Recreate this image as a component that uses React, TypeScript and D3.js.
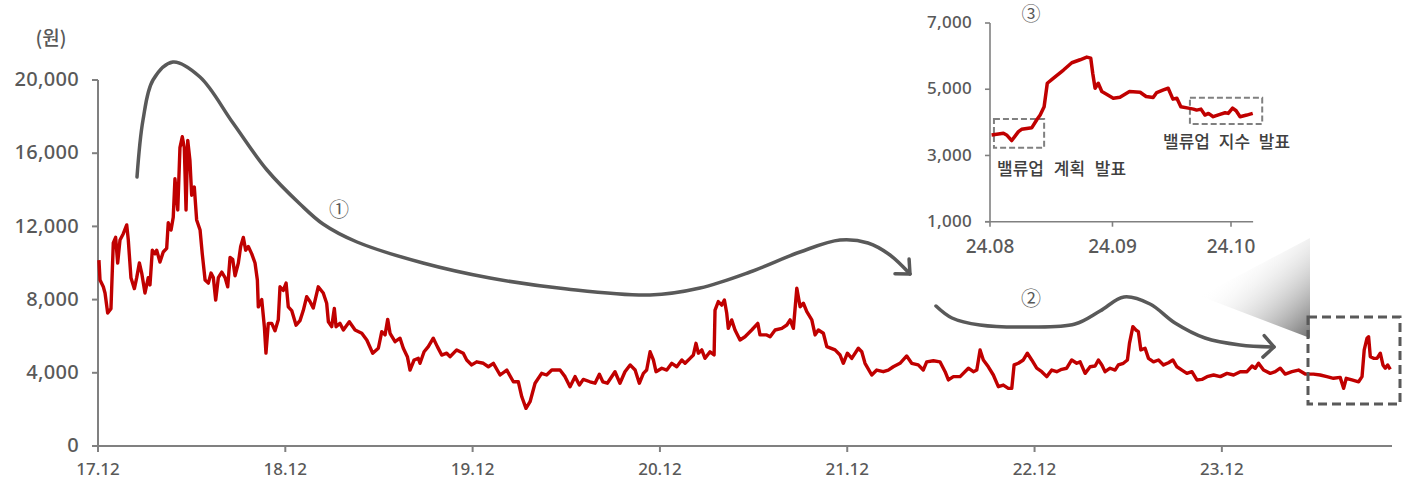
import React from 'react';
import * as d3 from 'd3';

// Main chart: months since 2017-12, closing price (KRW)
const xTickMonths = [0, 12, 24, 36, 48, 60, 72];
const xTickLabels = ['17.12', '18.12', '19.12', '20.12', '21.12', '22.12', '23.12'];
const yTicks = [0, 4000, 8000, 12000, 16000, 20000];
const monthDomainEnd = 82.9;

const priceSeries: [number, number][] = [
  [0.06, 10160], [0.13, 9070], [0.34, 8700], [0.45, 8360], [0.62, 7270], [0.83, 7500], [0.98, 11100], [1.13, 11400],
  [1.26, 10000], [1.41, 11260], [1.62, 11600], [1.84, 12080], [1.94, 11260], [2.11, 9200], [2.33, 8600], [2.48, 9200],
  [2.65, 10000], [2.8, 9450], [3.01, 8360], [3.22, 9200], [3.33, 8800], [3.48, 10700], [3.65, 10500], [3.76, 10700],
  [3.97, 10050], [4.18, 10600], [4.4, 10800], [4.5, 12200], [4.68, 11800], [4.82, 12500], [4.93, 14600], [5.11, 12900],
  [5.25, 16300], [5.4, 16900], [5.53, 16300], [5.64, 12900], [5.75, 16700], [5.89, 15600], [6.0, 13700], [6.17, 14150],
  [6.32, 12350], [6.54, 11800], [6.68, 10500], [6.86, 9070], [7.07, 8900], [7.24, 9450], [7.39, 9200], [7.54, 7980],
  [7.71, 9200], [7.93, 9500], [8.14, 9200], [8.31, 8700], [8.46, 10300], [8.63, 10200], [8.78, 9300], [8.99, 10000],
  [9.14, 10900], [9.31, 11400], [9.46, 10700], [9.63, 10900], [9.85, 10500], [10.06, 10000], [10.21, 9070], [10.27, 7600],
  [10.49, 8000], [10.66, 6500], [10.76, 5080], [10.91, 6700], [11.13, 6700], [11.34, 6300], [11.55, 6900], [11.66, 8700],
  [11.87, 8500], [12.05, 8900], [12.19, 7600], [12.41, 7400], [12.69, 6600], [12.94, 6850], [13.15, 7400], [13.37, 8160],
  [13.58, 7900], [13.79, 7540], [14.11, 8700], [14.43, 8360], [14.65, 7800], [14.76, 6790], [14.97, 6520], [15.14, 7520],
  [15.25, 6520], [15.5, 6700], [15.72, 6340], [16.1, 6790], [16.47, 6340], [16.9, 6160], [17.22, 5790], [17.6, 5070],
  [17.96, 5340], [18.18, 6250], [18.39, 6070], [18.56, 6920], [18.71, 6160], [19.03, 5700], [19.35, 5890], [19.56, 5340],
  [19.82, 4880], [19.99, 4150], [20.25, 4700], [20.52, 4790], [20.63, 4520], [20.89, 5150], [21.16, 5430], [21.48, 5890],
  [21.74, 5430], [22.02, 4970], [22.34, 5070], [22.55, 4880], [22.98, 5250], [23.4, 5070], [23.62, 4700], [23.94, 4430],
  [24.26, 4600], [24.69, 4520], [25.01, 4330], [25.33, 4520], [25.76, 3880], [26.19, 4150], [26.61, 3510], [26.93, 3510],
  [27.15, 2690], [27.42, 2060], [27.68, 2420], [28.0, 3430], [28.42, 3970], [28.74, 3880], [29.07, 4150], [29.6, 4150],
  [29.92, 3790], [30.24, 3240], [30.56, 3790], [30.84, 3330], [31.09, 3640], [31.52, 3510], [31.84, 3430], [32.12, 3920],
  [32.34, 3510], [32.63, 3430], [33.12, 4060], [33.44, 3430], [33.76, 4060], [34.09, 4430], [34.41, 4150], [34.68, 3430],
  [34.94, 3970], [35.15, 4150], [35.37, 5150], [35.58, 4700], [35.75, 4060], [36.12, 4250], [36.44, 4150], [36.76, 4520],
  [37.08, 4330], [37.4, 4700], [37.61, 4520], [37.93, 4790], [38.14, 4970], [38.31, 5610], [38.46, 5070], [38.68, 5250],
  [38.89, 4790], [39.21, 5150], [39.47, 4970], [39.53, 7430], [39.74, 7890], [39.96, 7700], [40.13, 7980], [40.28, 7250],
  [40.38, 6430], [40.6, 6890], [40.81, 6340], [41.13, 5790], [41.45, 5970], [41.88, 6340], [42.27, 6700], [42.41, 6070],
  [42.84, 6070], [43.06, 5970], [43.38, 6340], [43.81, 6430], [44.13, 6610], [44.34, 6890], [44.55, 6430], [44.77, 8620],
  [44.98, 7610], [45.19, 7800], [45.41, 7340], [45.73, 6890], [45.94, 6070], [46.15, 6340], [46.47, 6160], [46.69, 5430],
  [47.22, 5250], [47.54, 4970], [47.75, 4520], [48.01, 5070], [48.29, 4790], [48.71, 5340], [48.93, 5150], [49.14, 4520],
  [49.57, 3880], [49.89, 4150], [50.31, 4060], [50.63, 4150], [50.95, 4330], [51.38, 4520], [51.81, 4920], [52.13, 4520],
  [52.55, 4430], [52.87, 4150], [53.09, 4600], [53.52, 4660], [53.94, 4600], [54.27, 4060], [54.48, 3610], [54.8, 3790],
  [55.23, 3790], [55.76, 4250], [56.08, 4060], [56.3, 4150], [56.51, 5250], [56.72, 4700], [57.04, 4330], [57.36, 3880],
  [57.68, 3240], [58.0, 3330], [58.32, 3150], [58.54, 3150], [58.69, 4430], [58.96, 4520], [59.28, 4700], [59.54, 5070],
  [59.82, 4700], [60.14, 4250], [60.46, 4060], [60.78, 3790], [61.1, 4150], [61.42, 4060], [61.74, 4190], [62.06, 4250],
  [62.38, 4700], [62.7, 4520], [62.92, 4600], [63.24, 3970], [63.56, 4330], [63.88, 4370], [64.09, 4700], [64.31, 4430],
  [64.52, 4060], [64.84, 4250], [65.16, 4150], [65.37, 4430], [65.69, 4520], [65.95, 4700], [66.08, 5610], [66.3, 6520],
  [66.49, 6340], [66.65, 6250], [66.81, 5250], [67.08, 5340], [67.3, 4790], [67.62, 4600], [67.94, 4700], [68.26, 4430],
  [68.58, 4550], [68.86, 4700], [69.12, 4330], [69.44, 4150], [69.76, 3970], [70.08, 4060], [70.4, 3610], [70.72, 3640],
  [71.05, 3790], [71.47, 3880], [71.9, 3790], [72.33, 3970], [72.75, 3880], [73.18, 4060], [73.61, 4060], [73.93, 4370],
  [74.14, 4250], [74.35, 4520], [74.67, 4150], [75.1, 3970], [75.42, 4060], [75.74, 4250], [76.06, 3930], [76.49, 4060],
  [76.91, 4150], [77.34, 3930], [77.87, 3930], [78.3, 3880], [78.73, 3790], [79.15, 3700], [79.58, 3750], [79.8, 3150],
  [79.97, 3700], [80.33, 3610], [80.76, 3510], [80.98, 3790], [81.12, 5250], [81.3, 5890], [81.4, 5970], [81.51, 4880],
  [81.72, 4790], [81.94, 4790], [82.15, 5070], [82.32, 4430], [82.47, 4250], [82.62, 4430], [82.79, 4190],
];

// Inset: days since 2024-08-01, closing price (KRW)
const insetTickDays = [0, 31, 61];
const insetTickLabels = ['24.08', '24.09', '24.10'];
const insetYTicks = [1000, 3000, 5000, 7000];
const insetDomainEnd = 66.6;

const insetSeries: [number, number][] = [
  [0.4, 3620], [3.4, 3670], [4.2, 3620], [5.5, 3450], [7.2, 3720], [8.0, 3790], [10.6, 3840], [11.8, 4070],
  [12.7, 4220], [13.7, 4470], [14.5, 5180], [16.0, 5330], [18.6, 5580], [20.7, 5800], [22.8, 5890], [24.5, 5970],
  [25.5, 5940], [26.0, 5480], [26.6, 5030], [27.4, 5180], [28.3, 4930], [29.5, 4850], [31.2, 4730], [32.9, 4760],
  [35.3, 4930], [38.0, 4910], [39.5, 4780], [41.3, 4750], [42.2, 4900], [43.9, 4980], [45.1, 5030], [46.3, 4700],
  [47.3, 4730], [48.3, 4470], [50.2, 4430], [51.5, 4400], [52.3, 4370], [53.4, 4400], [54.4, 4220], [55.3, 4270],
  [56.5, 4170], [58.2, 4240], [59.5, 4290], [60.3, 4270], [61.4, 4430], [62.3, 4350], [63.3, 4170], [65.0, 4220],
  [66.5, 4270],
];

// Highlighted windows in the inset: [dayFrom, dayTo, valueLow, valueHigh]
const insetWindows: [number, number, number, number][] = [
  [1.0, 13.7, 3230, 4100],
  [50.6, 68.9, 3950, 4740],
];
const insetNotes = ['밸류업 계획 발표', '밸류업 지수 발표'];

const NUM_FONT = "'Noto Sans', 'Noto Sans CJK KR', sans-serif";
const KR_FONT = "'Noto Sans CJK KR', 'Noto Sans', sans-serif";
const AXIS = '#808080';
const TEXT = '#595959';
const RED = '#C00000';
const ARROW = '#595959';

// Hand-drawn guide curves (screen coordinates)
const guide1: [number, number][] = [
  [137, 177], [143, 120], [153, 80], [173, 62], [200, 77], [233, 123], [267, 170], [300, 204],
  [323, 224], [357, 242], [423, 263], [490, 278], [567, 289], [650, 295], [700, 288], [750, 272],
  [800, 252], [840, 240], [868, 243], [890, 255], [910, 274],
];
const guide2: [number, number][] = [
  [936, 306], [952, 318], [980, 325], [1030, 327], [1075, 324], [1100, 311], [1124, 297],
  [1150, 304], [1175, 323], [1205, 338], [1240, 345], [1274, 347],
];

function arrowHead(pts: [number, number][], len: number, spread: number) {
  const [x1, y1] = pts[pts.length - 2];
  const [x2, y2] = pts[pts.length - 1];
  const ang = Math.atan2(y2 - y1, x2 - x1);
  const a1 = ang + Math.PI - spread;
  const a2 = ang + Math.PI + spread;
  return `M${x2 + len * Math.cos(a1)},${y2 + len * Math.sin(a1)}L${x2},${y2}L${x2 + len * Math.cos(a2)},${y2 + len * Math.sin(a2)}`;
}

export default function App() {
  const x = d3.scaleLinear().domain([0, monthDomainEnd]).range([98, 1392]);
  const y = d3.scaleLinear().domain([0, 20000]).range([446, 80]);

  const ix = d3.scaleLinear().domain([0, 61]).range([990, 1231]);
  const iy = d3.scaleLinear().domain([1000, 7000]).range([221.7, 23]);

  const priceLine = d3.line<[number, number]>().x((d) => x(d[0])).y((d) => y(d[1]));
  const insetLine = d3.line<[number, number]>().x((d) => ix(d[0])).y((d) => iy(d[1]));
  const guideLine = d3.line<[number, number]>().curve(d3.curveCatmullRom.alpha(0.5));
  const fmt = d3.format(',');

  return (
    <svg width={1411} height={484} style={{ position: 'absolute', left: 0, top: 0, background: '#fff' }} fontFamily={NUM_FONT}>
      <defs>
        <linearGradient id="wedge" gradientUnits="userSpaceOnUse" x1={1235} y1={262} x2={1305} y2={338}>
          <stop offset="0" stopColor="#ffffff" stopOpacity={0} />
          <stop offset="1" stopColor="#7a7a7a" />
        </linearGradient>
      </defs>

      {/* zoom wedge from inset to highlighted window */}
      <polygon points="1200,296 1310,238 1310,338" fill="url(#wedge)" />

      {/* main axes */}
      <line x1={x(0)} x2={x(0)} y1={y(20000)} y2={y(0) + 6} stroke={AXIS} strokeWidth={2} />
      <line x1={x(0) - 6} x2={x(monthDomainEnd)} y1={y(0)} y2={y(0)} stroke={AXIS} strokeWidth={2} />
      {yTicks.map((t) => (
        <g key={t}>
          <line x1={x(0) - 6} x2={x(0)} y1={y(t)} y2={y(t)} stroke={AXIS} strokeWidth={2} />
          <text x={x(0) - 19} y={y(t) - 1} dy="0.36em" textAnchor="end" fontSize={20} fontWeight={500} fill={TEXT} letterSpacing={0.3}>
            {fmt(t)}
          </text>
        </g>
      ))}
      {xTickMonths.map((m, i) => (
        <g key={m}>
          <line x1={x(m)} x2={x(m)} y1={y(0)} y2={y(0) + 6} stroke={AXIS} strokeWidth={2} />
          <text x={x(m)} y={y(0) + 29} textAnchor="middle" fontSize={17} fontWeight={500} fill={TEXT}>
            {xTickLabels[i]}
          </text>
        </g>
      ))}
      <text x={51} y={45} textAnchor="middle" fontSize={19} fontWeight={500} fill={TEXT} fontFamily={KR_FONT}>(원)</text>

      {/* price line */}
      <path d={priceLine(priceSeries) || ''} fill="none" stroke={RED} strokeWidth={3.4} strokeLinejoin="round" />

      {/* guide arrows */}
      <path d={guideLine(guide1) || ''} fill="none" stroke={ARROW} strokeWidth={3.5} strokeLinecap="round" />
      <path d={arrowHead(guide1, 15, 0.75)} fill="none" stroke={ARROW} strokeWidth={3.5} strokeLinecap="round" strokeLinejoin="round" />
      <path d={guideLine(guide2) || ''} fill="none" stroke={ARROW} strokeWidth={3.5} strokeLinecap="round" />
      <path d={arrowHead(guide2, 15, 0.8)} fill="none" stroke={ARROW} strokeWidth={3.5} strokeLinecap="round" strokeLinejoin="round" />
      <text x={339} y={210} dy="0.36em" textAnchor="middle" fontSize={20} fill={TEXT} fontFamily={KR_FONT}>①</text>
      <text x={1031} y={299} dy="0.36em" textAnchor="middle" fontSize={20} fill={TEXT} fontFamily={KR_FONT}>②</text>

      {/* highlighted window on main chart */}
      <rect x={1308} y={317} width={92} height={87} fill="none" stroke={ARROW} strokeWidth={3} strokeDasharray="9 5" />

      {/* inset */}
      <text x={1031} y={21} textAnchor="middle" fontSize={19} fill={TEXT} fontFamily={KR_FONT}>③</text>
      <line x1={ix(0)} x2={ix(0)} y1={iy(7000)} y2={iy(1000)} stroke={AXIS} strokeWidth={1.6} />
      <line x1={ix(0) - 5} x2={ix(insetDomainEnd)} y1={iy(1000)} y2={iy(1000)} stroke={AXIS} strokeWidth={1.6} />
      {insetYTicks.map((t) => (
        <g key={t}>
          <line x1={ix(0) - 5} x2={ix(0)} y1={iy(t)} y2={iy(t)} stroke={AXIS} strokeWidth={1.6} />
          <text x={ix(0) - 18} y={iy(t) - 1} dy="0.36em" textAnchor="end" fontSize={17} fontWeight={500} fill={TEXT} letterSpacing={0.3}>
            {fmt(t)}
          </text>
        </g>
      ))}
      {insetTickDays.map((d, i) => (
        <g key={d}>
          <line x1={ix(d)} x2={ix(d)} y1={iy(1000)} y2={iy(1000) + 5} stroke={AXIS} strokeWidth={1.6} />
          <text x={ix(d)} y={iy(1000) + 31} textAnchor="middle" fontSize={19} fontWeight={500} fill={TEXT}>
            {insetTickLabels[i]}
          </text>
        </g>
      ))}
      {insetWindows.map(([d0, d1, v0, v1], i) => (
        <rect key={i} x={ix(d0)} y={iy(v1)} width={ix(d1) - ix(d0)} height={iy(v0) - iy(v1)}
          fill="none" stroke="#808080" strokeWidth={2} strokeDasharray="6 3" />
      ))}
      <path d={insetLine(insetSeries) || ''} fill="none" stroke={RED} strokeWidth={3.5} strokeLinejoin="round" />
      <text x={997} y={169} dy="0.36em" fontSize={17} fill="#404040" fontWeight={500} wordSpacing={6} fontFamily={KR_FONT}>{insetNotes[0]}</text>
      <text x={1163} y={142} dy="0.36em" fontSize={17} fill="#404040" fontWeight={500} wordSpacing={5} fontFamily={KR_FONT}>{insetNotes[1]}</text>
    </svg>
  );
}
